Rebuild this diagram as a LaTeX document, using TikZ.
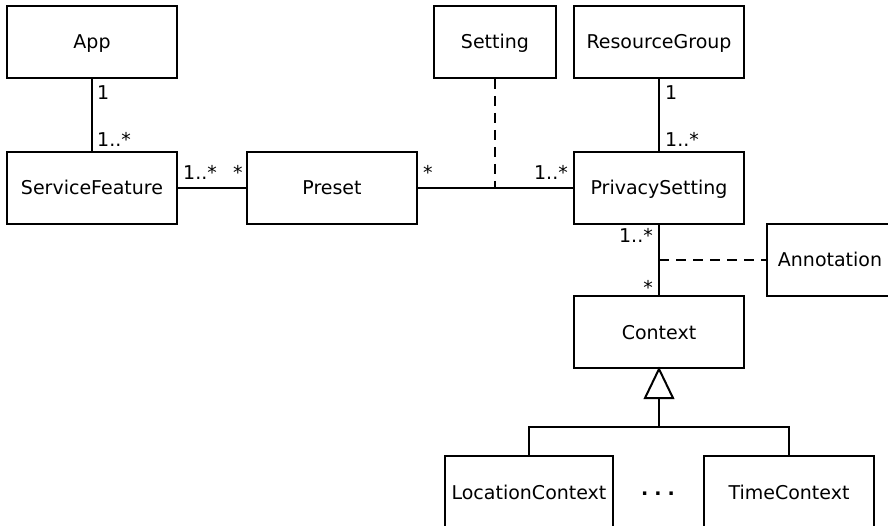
\documentclass[tikz,border=0pt]{standalone}
\usepackage{fontspec}
\setmainfont{DejaVu Sans}
\usetikzlibrary{calc}
\begin{document}
\begin{tikzpicture}[x=1pt,y=-1pt,
  cls/.style={draw, line width=2pt, inner sep=0pt, minimum height=72pt,
    text height=14pt, text depth=0pt, font=\fontsize{19}{23}\selectfont},
  assoc/.style={line width=2pt},
  dashline/.style={line width=2pt, dash pattern=on 10pt off 7pt},
  mult/.style={inner sep=0pt, font=\fontsize{19}{23}\selectfont}]
\useasboundingbox (0,0) rectangle (888,526);
\clip (0,0) rectangle (888,526);
% classes
\node[cls, minimum width=170pt] (app) at (92,42) {App};
\node[cls, minimum width=170pt] (sf) at (92,188) {ServiceFeature};
\node[cls, minimum width=170pt] (preset) at (332,188) {Preset};
\node[cls, minimum width=122pt] (setting) at (495,42) {Setting};
\node[cls, minimum width=170pt] (rg) at (659,42) {ResourceGroup};
\node[cls, minimum width=170pt] (ps) at (659,188) {PrivacySetting};
\node[cls, minimum width=126pt] (ann) at (830,260) {Annotation};
\node[cls, minimum width=170pt] (ctx) at (659,332) {Context};
\node[cls, minimum width=168pt] (loc) at (529,492) {LocationContext};
\node[cls, minimum width=170pt] (time) at (789,492) {TimeContext};
% associations
\draw[assoc] (app) -- (sf);
\draw[assoc] (sf) -- (preset);
\draw[assoc] (preset) -- (ps);
\draw[assoc] (rg) -- (ps);
\draw[assoc] (ps.south) -- coordinate[pos=0.5] (mid) (ctx.north);
\draw[dashline] (setting.south) -- (setting.south |- preset.east);
\draw[dashline] (mid) -- (ann.west);
% generalization
\draw[assoc, line join=miter] (ctx.south) -- ++(-14,29) -- ++(28,0) -- cycle;
\draw[assoc] ($(ctx.south)+(0,29)$) -- ++(0,29) coordinate (gj);
\draw[assoc] (loc.north) |- (gj) -| (time.north);
% multiplicities
\node[mult, anchor=base west] (m1) at (97,100) {1};
\node[mult, anchor=base west] (m2) at (97,147) {1..*};
\node[mult, anchor=base west] (m3) at (183,180) {1..*};
\node[mult, anchor=base west] (m4) at (233,180) {*};
\node[mult, anchor=base west] (m5) at (423,180) {*};
\node[mult, anchor=base east] (m6) at (568,180) {1..*};
\node[mult, anchor=base west] (m7) at (665,100) {1};
\node[mult, anchor=base west] (m8) at (665,147) {1..*};
\node[mult, anchor=base east] (m9) at (653,243) {1..*};
\node[mult, anchor=base east] (m10) at (653,295) {*};
\node[mult, anchor=base] (dots) at (658,495) {\textbf{.\hspace{6pt}.\hspace{6pt}.}};
\end{tikzpicture}
\end{document}
